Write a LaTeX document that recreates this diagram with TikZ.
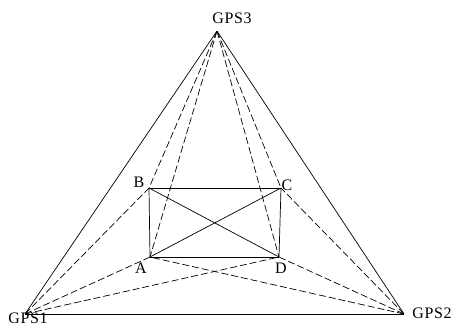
\documentclass[tikz,border=0pt]{standalone}
\usepackage{fontspec}
\newfontfamily\gpsfont[LetterSpace=4]{Liberation Serif}
\begin{document}
\begin{tikzpicture}[x=1pt,y=-1pt]
		\tikzstyle{pnt}=[inner sep=0pt, minimum size=0pt];
		\tikzstyle{lbl}=[inner sep=0pt, font=\gpsfont\fontsize{16}{16}\selectfont];
		\tikzstyle{sig}=[line width=0.7pt, dash pattern=on 7pt off 3pt];
		\tikzstyle{side}=[line width=0.7pt];

		\useasboundingbox (0,0) rectangle (456,332);

		\node[pnt] (GPS1) at (25,314) {};
		\node[pnt] (GPS2) at (404,314) {};
		\node[pnt] (GPS3) at (217,31) {};
		\node[pnt] (A) at (150,257) {};
		\node[pnt] (B) at (149,188) {};
		\node[pnt] (C) at (281,188) {};
		\node[pnt] (D) at (279,257) {};

		\node[lbl] (lGPS1) at (28,318) {GPS1};
		\node[lbl] (lGPS2) at (432,313) {GPS2};
		\node[lbl] (lGPS3) at (232,18) {GPS3};
		\node[lbl] (lA) at (141,268) {A};
		\node[lbl] (lB) at (139,182) {B};
		\node[lbl] (lC) at (287,185) {C};
		\node[lbl] (lD) at (281,268) {D};

		\draw[side] (GPS1) to (GPS2) ;
		\draw[side] (GPS2) to (GPS3) ;
		\draw[side] (GPS3) to (GPS1) ;

		\draw[side] (A) to (B) ;
		\draw[side] (B) to (C) ;
		\draw[side] (C) to (D) ;
		\draw[side] (D) to (A) ;
		\draw[side] (A) to (C) ;
		\draw[side] (B) to (D) ;

		\draw[sig] (GPS1) to (B) ;
		\draw[sig] (GPS1) to (A) ;
		\draw[sig] (GPS1) to (D) ;
		\draw[sig] (GPS2) to (C) ;
		\draw[sig] (GPS2) to (D) ;
		\draw[sig] (GPS2) to (A) ;
		\draw[sig] (GPS3) to (B) ;
		\draw[sig] (GPS3) to (A) ;
		\draw[sig] (GPS3) to (D) ;
		\draw[sig] (GPS3) to (C) ;
        \end{tikzpicture}
\end{document}
